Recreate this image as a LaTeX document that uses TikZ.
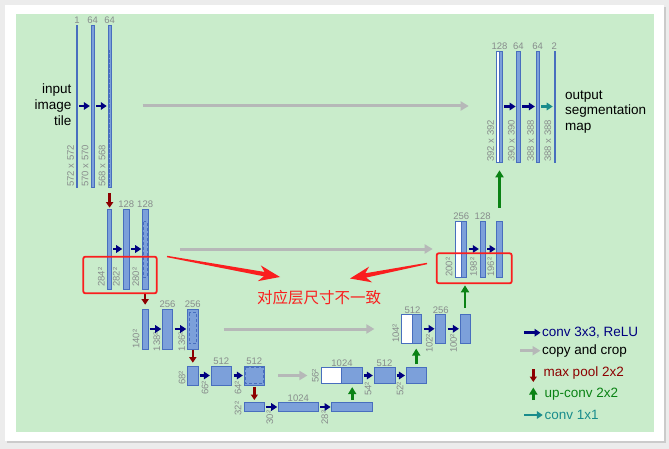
\documentclass[tikz,border=0pt]{standalone}
\usepackage{fontspec}
\setmainfont{Liberation Sans}
\newfontfamily\cjk{Noto Sans CJK SC}
\usetikzlibrary{positioning,arrows.meta,calc,shadows}

\definecolor{pagegray}{RGB}{236,236,236}
\definecolor{fond}{RGB}{201,236,203}
\definecolor{barfill}{RGB}{124,160,218}
\definecolor{barline}{RGB}{72,110,190}
\definecolor{labgray}{RGB}{135,140,140}
\definecolor{convblue}{RGB}{0,0,128}
\definecolor{copygray}{RGB}{182,184,184}
\definecolor{poolred}{RGB}{140,0,0}
\definecolor{upgreen}{RGB}{10,130,20}
\definecolor{tealc}{RGB}{25,140,140}
\definecolor{notered}{RGB}{250,30,30}

\begin{document}
\begin{tikzpicture}[x=1pt, y=-1pt,
    bar/.style 2 args={draw=barline, fill=barfill, line width=0.6pt, inner sep=0pt,
        minimum width=#1, minimum height=#2},
    copied/.style 2 args={bar={#1}{#2}, fill=white},
    crop/.style n args={3}{path picture={\draw[barline, densely dashed, line width=0.5pt]
        ([shift={(#1,-#2)}]path picture bounding box.north west) rectangle
        ([shift={(-#1,#3)}]path picture bounding box.south east);}},
    ch/.style={text=labgray, font=\fontsize{9.5}{10}\selectfont, inner sep=0.6pt},
    sz/.style={text=labgray, font=\fontsize{9.5}{10}\selectfont, inner sep=0.5pt,
        rotate=90, anchor=south west},
    big/.style={font=\fontsize{13.5}{15.8}\selectfont, inner sep=1.5pt},
    convarrow/.style={convblue, line width=2.6pt, -{Triangle[length=6pt,width=7.5pt]},
        shorten <=1.5pt, shorten >=0.8pt},
    outarrow/.style={convarrow, tealc},
    copyarrow/.style={copygray, line width=3pt, -{Triangle[length=8pt,width=9pt]}},
    poolarrow/.style={poolred, line width=2.6pt, -{Triangle[length=5.5pt,width=7pt]}},
    uparrow/.style={upgreen, line width=2.6pt, -{Triangle[length=7pt,width=8pt]}},
    redbox/.style={draw=notered, line width=1.8pt, rounded corners=2pt, inner sep=0pt}]

    % Cadre
    \useasboundingbox (0,0) rectangle (669,449);
    \fill[pagegray] (0,0) rectangle (669,449);
    \fill[white, drop shadow={shadow xshift=2pt, shadow yshift=-2pt, opacity=.3}] (5,5) rectangle (664,441);
    \fill[fond] (16,14) rectangle (654,432);

    % Niveau 1 (gauche)
    \node[big, align=right, anchor=east] (inp) at (73,104.5) {input\\image\\tile};
    \node[bar={1pt}{162pt}] (c11) at (76.9,106) {};
    \node[bar={3.5pt}{162pt}] (c12) at (92.75,106) {};
    \node[bar={3.4pt}{162pt}, crop={1.7pt}{25pt}{1pt}] (c13) at (109.6,106) {};
    \node[ch, above=0pt of c11] (n11) {1};
    \node[ch, above=0pt of c12] (n12) {64};
    \node[ch, above=0pt of c13] (n13) {64};
    \node[sz] (s11) at ([xshift=-1.5pt]c11.south west) {572 x 572};
    \node[sz] (s12) at ([xshift=-1.5pt]c12.south west) {570 x 570};
    \node[sz] (s13) at ([xshift=-1.5pt]c13.south west) {568 x 568};

    % Niveau 2 (gauche)
    \node[bar={4pt}{80pt}] (c21) at (109.6,249) {};
    \node[bar={6pt}{80pt}] (c22) at (126.3,249) {};
    \node[bar={5.7pt}{80pt}, crop={1.2pt}{12.5pt}{12pt}] (c23) at (145.15,249) {};
    \node[ch, above=0pt of c22] (n22) {128};
    \node[ch, above=0pt of c23] (n23) {128};
    \node[sz] (s21) at ([xshift=-2pt, yshift=2pt]c21.south west) {284²};
    \node[sz] (s22) at ([xshift=-2.5pt, yshift=2pt]c22.south west) {282²};
    \node[sz] (s23) at ([xshift=-2pt, yshift=2pt]c23.south west) {280²};

    % Niveau 3 (gauche)
    \node[bar={5.6pt}{40pt}] (c31) at (145.15,329) {};
    \node[bar={10.4pt}{40pt}] (c32) at (167.5,329) {};
    \node[bar={11pt}{40pt}, crop={1.8pt}{3.7pt}{5.5pt}] (c33) at (192.8,329) {};
    \node[ch, above=0pt of c32] (n32) {256};
    \node[ch, above=0pt of c33] (n33) {256};
    \node[sz] (s31) at ([xshift=-2pt]c31.south west) {140²};
    \node[sz] (s32) at ([xshift=-1pt, yshift=-2.5pt]c32.south west) {138²};
    \node[sz] (s33) at ([xshift=-1pt, yshift=-2.5pt]c33.south west) {136²};

    % Niveau 4 (gauche)
    \node[bar={10.4pt}{19pt}] (c41) at (192.7,375.5) {};
    \node[bar={20.7pt}{19pt}] (c42) at (221.35,375.5) {};
    \node[bar={20.7pt}{19pt}, crop={1.3pt}{1.3pt}{1.3pt}] (c43) at (254.35,375.5) {};
    \node[ch, above=0pt of c42] (n42) {512};
    \node[ch, above=0pt of c43] (n43) {512};
    \node[sz] (s41) at ([xshift=-1pt]c41.south west) {68²};
    \node[sz] (s42) at ([xshift=-1.5pt, yshift=-10pt]c42.south west) {66²};
    \node[sz] (s43) at ([xshift=-1.5pt, yshift=-10pt]c43.south west) {64²};

    % Niveau 5
    \node[bar={20pt}{9.4pt}] (c51) at (254,407) {};
    \node[bar={40pt}{9.4pt}] (c52) at (298.3,407) {};
    \node[bar={41pt}{9.4pt}] (c53) at (352.2,407) {};
    \node[ch, above=0pt of c52] (n52) {1024};
    \node[sz] (s51) at ([xshift=-1.5pt, yshift=-4pt]c51.south west) {32²};
    \node[sz] (s52) at ([xshift=-4pt, yshift=-13pt]c52.south west) {30²};
    \node[sz] (s53) at ([xshift=-2.5pt, yshift=-13pt]c53.south west) {28²};

    % Niveau 4 (droite)
    \node[copied={20pt}{15.6pt}] (e41) at (331.7,375.5) {};
    \node[bar={20.6pt}{15.6pt}] (e42) at (352,375.5) {};
    \node[bar={21pt}{15.6pt}] (e43) at (384.5,375.5) {};
    \node[bar={20.3pt}{15.6pt}] (e44) at (416.2,375.5) {};
    \node[ch, above=0pt of e41.north east] (m41) {1024};
    \node[ch, above=0pt of e43] (m43) {512};
    \node[sz] (t41) at ([xshift=-2pt]e41.south west) {56²};
    \node[sz] (t43) at ([xshift=-1.5pt, yshift=-13pt]e43.south west) {54²};
    \node[sz] (t44) at ([xshift=-1.5pt, yshift=-13pt]e44.south west) {52²};

    % Niveau 3 (droite)
    \node[copied={10.6pt}{29pt}] (e31) at (407,328.8) {};
    \node[bar={9.4pt}{29pt}] (e32) at (417,328.8) {};
    \node[bar={10pt}{29pt}] (e33) at (440.7,328.8) {};
    \node[bar={10pt}{29pt}] (e34) at (465,328.8) {};
    \node[ch, above=0pt of e31.north east] (m31) {512};
    \node[ch, above=0pt of e33] (m33) {256};
    \node[sz] (t31) at ([xshift=-1.5pt]e31.south west) {104²};
    \node[sz] (t33) at ([xshift=-2pt, yshift=-10pt]e33.south west) {102²};
    \node[sz] (t34) at ([xshift=-2pt, yshift=-10pt]e34.south west) {100²};

    % Niveau 2 (droite)
    \node[copied={6pt}{56pt}] (e21) at (458,249) {};
    \node[bar={5.7pt}{56pt}] (e22) at (463.85,249) {};
    \node[bar={5.3pt}{56pt}] (e23) at (482.65,249) {};
    \node[bar={5.6pt}{56pt}] (e24) at (499.5,249) {};
    \node[ch, above=0pt of e21.north east] (m21) {256};
    \node[ch, above=0pt of e23] (m23) {128};
    \node[sz] (t21) at ([xshift=-1.5pt]e21.south west) {200²};
    \node[sz] (t23) at ([xshift=-2pt]e23.south west) {198²};
    \node[sz] (t24) at ([xshift=-1.5pt]e24.south west) {196²};

    % Niveau 1 (droite)
    \node[copied={3.3pt}{111pt}] (e11) at (497.65,106.5) {};
    \node[bar={2.7pt}{111pt}] (e12) at (500.65,106.5) {};
    \node[bar={3.3pt}{111pt}] (e13) at (518.35,106.5) {};
    \node[bar={3.3pt}{111pt}] (e14) at (537.65,106.5) {};
    \node[bar={1pt}{111pt}] (e15) at (554.3,106.5) {};
    \node[ch, above=0pt of e11.north east] (m11) {128};
    \node[ch, above=0pt of e13] (m13) {64};
    \node[ch, above=0pt of e14] (m14) {64};
    \node[ch, above=0pt of e15] (m15) {2};
    \node[sz] (t11) at ([xshift=-1pt]e11.south west) {392 x 392};
    \node[sz] (t13) at ([xshift=-1pt]e13.south west) {390 x 390};
    \node[sz] (t14) at ([xshift=-1pt]e14.south west) {388 x 388};
    \node[sz] (t15) at ([xshift=-1.5pt]e15.south west) {388 x 388};
    \node[big, align=left, anchor=west] (outp) at (563.5,112) {output\\segmentation\\map};

    % Convolutions 3x3
    \draw[convarrow] (c11) -- (c12);
    \draw[convarrow] (c12) -- (c13);
    \draw[convarrow] (c21) -- (c22);
    \draw[convarrow] (c22) -- (c23);
    \draw[convarrow] (c31) -- (c32);
    \draw[convarrow] (c32) -- (c33);
    \draw[convarrow] (c41) -- (c42);
    \draw[convarrow] (c42) -- (c43);
    \draw[convarrow] (c51) -- (c52);
    \draw[convarrow] (c52) -- (c53);
    \draw[convarrow] (e42) -- (e43);
    \draw[convarrow] (e43) -- (e44);
    \draw[convarrow] (e32) -- (e33);
    \draw[convarrow] (e33) -- (e34);
    \draw[convarrow] (e22) -- (e23);
    \draw[convarrow] (e23) -- (e24);
    \draw[convarrow] (e12) -- (e13);
    \draw[convarrow] (e13) -- (e14);
    \draw[outarrow] (e14) -- (e15);

    % Max pool
    \draw[poolarrow, shorten <=6pt, shorten >=1pt] (c13.south) -- (c13.south |- c21.north);
    \draw[poolarrow, shorten <=4pt, shorten >=4pt] (c23.south) -- (c23.south |- c31.north);
    \draw[poolarrow, shorten <=1pt, shorten >=3pt] (c33.south) -- (c33.south |- c41.north);
    \draw[poolarrow, shorten <=1.5pt, shorten >=2pt] (c43.south) -- (c43.south |- c51.north);

    % Up-conv
    \draw[uparrow, shorten <=2pt, shorten >=3.5pt] (c53.north) -- (c53.north |- e42.south);
    \draw[uparrow, shorten <=3pt, shorten >=5pt] (e44.north) -- (e44.north |- e32.south);
    \draw[uparrow, shorten <=6pt, shorten >=8pt] (e34.north) -- (e34.north |- e22.south);
    \draw[uparrow, shorten <=13pt, shorten >=8pt] (e24.north) -- (e24.north |- e12.south);

    % Copy and crop
    \draw[copyarrow, shorten <=31pt, shorten >=27pt] (c13.east) -- (c13.east -| e11.west);
    \draw[copyarrow, shorten <=32pt, shorten >=22pt] (c23.east) -- (c23.east -| e21.west);
    \draw[copyarrow, shorten <=25pt, shorten >=27pt] (c33.east) -- (c33.east -| e31.west);
    \draw[copyarrow, shorten <=13pt, shorten >=14pt] (c43.east) -- (c43.east -| e41.west);

    % Legende
    \node[big, text=convblue, anchor=west] (l1) at (540.5,332.7) {conv 3x3, ReLU};
    \node[big, anchor=west] (l2) at (540.5,350.7) {copy and crop};
    \node[big, text=poolred, anchor=west] (l3) at (541.8,373.3) {max pool 2x2};
    \node[big, text=upgreen, anchor=west] (l4) at (542.8,394.3) {up-conv 2x2};
    \node[big, text=tealc, anchor=west] (l5) at (542.8,415) {conv 1x1};
    \coordinate (k1) at (524,332.7);
    \coordinate (k2) at (520,350.7);
    \coordinate (k3a) at (533.3,369);
    \coordinate (k3b) at (533.3,382);
    \coordinate (k4a) at (533.3,400);
    \coordinate (k4b) at (533.3,387.5);
    \coordinate (k5) at (524,415);
    \draw[convarrow, shorten <=0pt, shorten >=0pt] (k1) -- (l1);
    \draw[copyarrow] (k2) -- (l2);
    \draw[poolarrow] (k3a) -- (k3b);
    \draw[uparrow] (k4a) -- (k4b);
    \draw[outarrow, shorten <=0pt, shorten >=0pt] (k5) -- (l5);

    % Annotation
    \node[redbox, minimum width=73.4pt, minimum height=36.6pt] (box1) at (120,275) {};
    \node[redbox, minimum width=75pt, minimum height=30pt] (box2) at (474.2,268.3) {};
    \node[text=notered, font=\cjk\fontsize{15.5}{16}\selectfont] (msg) at (319,297.5) {对应层尺寸不一致};
    \coordinate (a1) at (167,256.5);
    \coordinate (a2) at (280,277);
    \coordinate (a3) at (427,263.5);
    \coordinate (a4) at (350,278.5);
    \coordinate (h1) at ($(a2)!16pt!(a1)$);
    \coordinate (b1) at ($(a2)!21pt!(a1)$);
    \coordinate (h2) at ($(a4)!16pt!(a3)$);
    \coordinate (b2) at ($(a4)!21pt!(a3)$);
    \fill[notered] ($(a1)!0.7pt!90:(a2)$) -- ($(h1)!2.2pt!90:(a2)$) -- ($(b1)!8pt!90:(a2)$) -- (a2)
        -- ($(b1)!8pt!-90:(a2)$) -- ($(h1)!2.2pt!-90:(a2)$) -- ($(a1)!0.7pt!-90:(a2)$) -- cycle;
    \fill[notered] ($(a3)!0.7pt!90:(a4)$) -- ($(h2)!2.2pt!90:(a4)$) -- ($(b2)!8pt!90:(a4)$) -- (a4)
        -- ($(b2)!8pt!-90:(a4)$) -- ($(h2)!2.2pt!-90:(a4)$) -- ($(a3)!0.7pt!-90:(a4)$) -- cycle;

\end{tikzpicture}
\end{document}
